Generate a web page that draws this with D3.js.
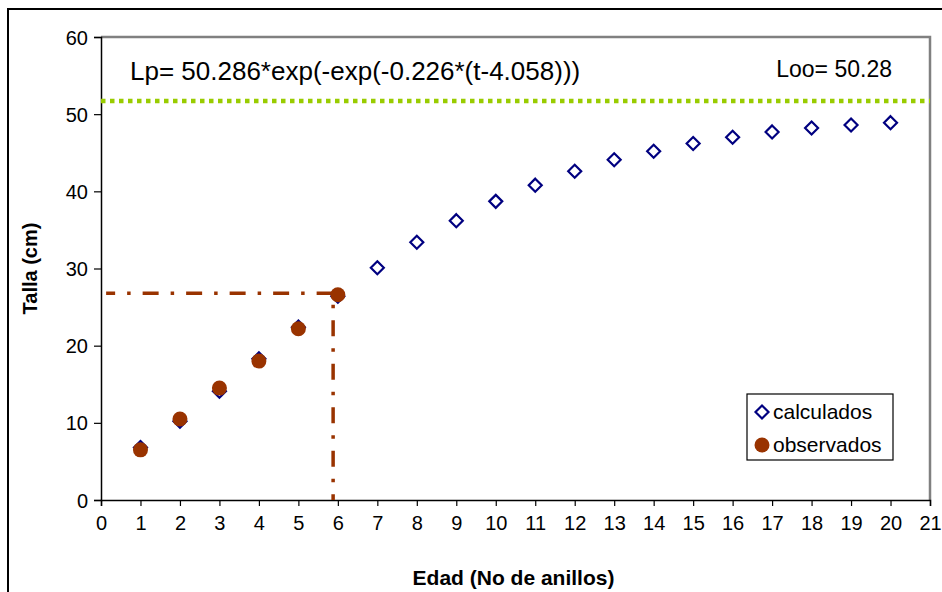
<!DOCTYPE html>
<html>
<head>
<meta charset="utf-8">
<script src="https://cdn.jsdelivr.net/npm/d3@7"></script>
<style>
  html, body { margin: 0; padding: 0; background: #fff; }
  svg { display: block; font-family: "Liberation Sans", Arial, sans-serif; }
</style>
</head>
<body>
<svg id="chart" width="942" height="592"></svg>
<script>
// ---- data ----
const ages = [1,2,3,4,5,6,7,8,9,10,11,12,13,14,15,16,17,18,19,20];
const calculados = [6.8,10.2,14.1,18.3,22.4,26.4,30.1,33.4,36.2,38.7,40.8,42.6,44.1,45.2,46.2,47.0,47.7,48.2,48.6,48.9];
const obsAges = [1,2,3,4,5,6];
const observados = [6.5,10.5,14.5,18.0,22.2,26.6];
const looLine = [[0, 51.7], [21, 51.7]];
const refLine = [[0.13, 26.8], [5.88, 26.8], [5.88, 0]];
const xTicks = d3.range(0, 22);
const yTicks = [0, 10, 20, 30, 40, 50, 60];
const formulaText = "Lp= 50.286*exp(-exp(-0.226*(t-4.058)))";
const looText = "Loo= 50.28";
const seriesNames = ["calculados", "observados"];
const xTitle = "Edad (No de anillos)";
const yTitle = "Talla (cm)";

// ---- layout ----
const svg = d3.select("#chart");
const pLeft = 101, pRight = 930, pTop = 37, pBottom = 500;
const x = d3.scaleLinear().domain([0, 21]).range([pLeft, pRight]);
const y = d3.scaleLinear().domain([0, 60]).range([pBottom, pTop]);

// outer frame
svg.append("rect").attr("x", 8).attr("y", 9).attr("width", 1000).attr("height", 1000)
  .attr("fill", "#fff").attr("stroke", "#000").attr("stroke-width", 2);

// plot area gray border (top & right)
svg.append("path")
  .attr("d", `M${pLeft},${pTop}H${pRight}V${pBottom}`)
  .attr("fill", "none").attr("stroke", "#808080").attr("stroke-width", 2.5);

// axes
const xAxis = d3.axisBottom(x).tickValues(xTicks).tickSize(6).tickPadding(10).tickFormat(d3.format("d"));
const gx = svg.append("g").attr("transform", `translate(0,${pBottom})`).call(xAxis);
const yAxis = d3.axisLeft(y).tickValues(yTicks).tickSize(7).tickPadding(6).tickFormat(d3.format("d"));
const gy = svg.append("g").attr("transform", `translate(${pLeft},0)`).call(yAxis);
[gx, gy].forEach(g => {
  g.select(".domain").attr("stroke", "#000").attr("stroke-width", 1.5);
  g.selectAll(".tick line").attr("stroke", "#000").attr("stroke-width", 1.2);
  g.selectAll(".tick text").attr("fill", "#000").style("font-size", "20px")
    .style("font-family", '"Liberation Sans", Arial, sans-serif');
});
gy.selectAll(".tick text").attr("dy", "0.35em");

// Loo dotted line
const line = d3.line().x(d => x(d[0])).y(d => y(d[1]));
svg.append("path").datum(looLine).attr("d", line)
  .attr("fill", "none").attr("stroke", "#99CC00").attr("stroke-width", 4.5)
  .attr("stroke-dasharray", "4.5,4.5");

// reference dash-dot line
svg.append("path").datum(refLine).attr("d", line)
  .attr("fill", "none").attr("stroke", "#993300").attr("stroke-width", 3.5)
  .attr("stroke-dasharray", "16,12,3.5,12").attr("stroke-dashoffset", 7);

// diamonds
const diamond = (cx, cy, r) => `M${cx},${cy - r}L${cx + r},${cy}L${cx},${cy + r}L${cx - r},${cy}Z`;
svg.append("g").selectAll("path").data(ages).join("path")
  .attr("d", (d, i) => diamond(x(d), y(calculados[i]), 6.5))
  .attr("fill", "#fff").attr("stroke", "#000080").attr("stroke-width", 2.2);

// circles
svg.append("g").selectAll("circle").data(obsAges).join("circle")
  .attr("cx", d => x(d)).attr("cy", (d, i) => y(observados[i])).attr("r", 7.5)
  .attr("fill", "#993300");

// texts
svg.append("text").attr("x", 130).attr("y", 80).style("font-size", "26px").text(formulaText);
svg.append("text").attr("x", 892).attr("y", 77).attr("text-anchor", "end").style("font-size", "23px").text(looText);

// legend
const lg = svg.append("g");
lg.append("rect").attr("x", 747).attr("y", 394).attr("width", 146).attr("height", 66)
  .attr("fill", "#fff").attr("stroke", "#000").attr("stroke-width", 1.2);
lg.append("path").attr("d", diamond(762, 412, 6.5)).attr("fill", "#fff")
  .attr("stroke", "#000080").attr("stroke-width", 2.2);
lg.append("circle").attr("cx", 762).attr("cy", 445).attr("r", 7.5).attr("fill", "#993300");
lg.append("text").attr("x", 773).attr("y", 419).style("font-size", "21px").text(seriesNames[0]);
lg.append("text").attr("x", 773).attr("y", 452).style("font-size", "21px").text(seriesNames[1]);

// axis titles
svg.append("text").attr("x", (pLeft + pRight) / 2 - 2).attr("y", 585).attr("text-anchor", "middle")
  .style("font-size", "21px").style("font-weight", "bold").text(xTitle);
svg.append("text").attr("transform", `translate(37,${(pTop + pBottom) / 2}) rotate(-90)`)
  .attr("text-anchor", "middle").style("font-size", "20px").style("font-weight", "bold").text(yTitle);
</script>
</body>
</html>
